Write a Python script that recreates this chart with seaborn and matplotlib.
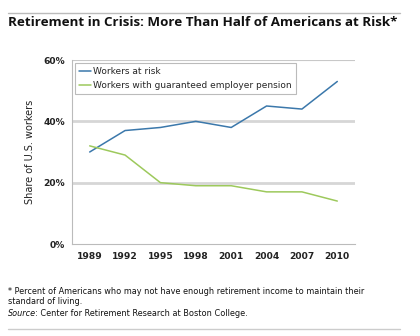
import matplotlib
matplotlib.use("Agg")
import matplotlib.pyplot as plt
import seaborn as sns
import pandas as pd
from matplotlib.lines import Line2D
from matplotlib.ticker import FuncFormatter, FixedLocator

years = ["1989", "1992", "1995", "1998", "2001", "2004", "2007", "2010"]
at_risk = [30, 37, 38, 40, 38, 45, 44, 53]
pension = [32, 29, 20, 19, 19, 17, 17, 14]
series_names = ["Workers at risk", "Workers with guaranteed employer pension"]
yticks = [0, 20, 40, 60]

sns.set_theme(style="white")
plt.rcParams["font.family"] = ["DejaVu Sans"]

df = pd.DataFrame({
    "pos": list(range(len(years))) * 2,
    "value": at_risk + pension,
    "series": [series_names[0]] * len(years) + [series_names[1]] * len(years),
})

fig = plt.figure(figsize=(4.2, 3.36), dpi=100)
ax = fig.add_axes([72/420, 1-244/336, (355-72)/420, (244-60)/336])
palette = {series_names[0]: "#3b78ab", series_names[1]: "#9dc95c"}
sns.lineplot(data=df, x="pos", y="value", hue="series", palette=palette, ax=ax,
             linewidth=1.1, legend=False)

ax.set_xlim(-0.5, len(years) - 0.5)
ax.set_ylim(0, 60)
ax.set_xticks(range(len(years)))
ax.set_xticklabels(years, fontsize=6.6, fontweight="bold", color="#222222")
ax.xaxis.set_minor_locator(FixedLocator([i - 0.5 for i in range(len(years) + 1)]))
ax.tick_params(axis="x", which="major", length=0, pad=6)
ax.tick_params(axis="x", which="minor", length=4, width=0.8, color="#bbbbbb", direction="out")
ax.set_yticks(yticks)
ax.yaxis.set_major_formatter(FuncFormatter(lambda v, p: f"{int(v)}%"))
ax.tick_params(axis="y", length=3, width=0.8, color="#bbbbbb", direction="out",
               labelsize=6.6, labelcolor="#222222", pad=2)
for lab in ax.get_yticklabels():
    lab.set_fontweight("bold")
ax.set_xlabel("")
ax.set_ylabel("Share of U.S. workers", fontsize=7, color="#222222", labelpad=6)

for y in [20, 40]:
    ax.axhline(y, color="#d6d6d6", linewidth=2.0, zorder=0)
ax.axhline(60, color="#c8c8c8", linewidth=0.8, zorder=0)
for s in ["top", "right"]:
    ax.spines[s].set_visible(False)
for s in ["left", "bottom"]:
    ax.spines[s].set_color("#bbbbbb")
    ax.spines[s].set_linewidth(0.8)

handles = [Line2D([0], [0], color=palette[n], linewidth=1.1) for n in series_names]
leg = ax.legend(handles, series_names, loc="upper left", bbox_to_anchor=(0.012, 0.985),
                fontsize=6.5, frameon=True, fancybox=False, handlelength=1.3,
                handletextpad=0.2, borderpad=0.45, labelspacing=0.55, borderaxespad=0)
leg.get_frame().set_edgecolor("#aaaaaa")
leg.get_frame().set_linewidth(0.8)

# title and rules
fig.add_artist(Line2D([8/420, 400/420], [1-13/336, 1-13/336], color="#bbbbbb", linewidth=1.0))
fig.text(8/420, 1-22/336, "Retirement in Crisis: More Than Half of Americans at Risk*",
         fontsize=9.6, fontweight="bold", family="Open Sans", va="center", ha="left", color="#111111")
fs = 5.85
fig.text(8/420, 1-291/336, "* Percent of Americans who may not have enough retirement income to maintain their",
         fontsize=fs, va="center", ha="left", color="#111111")
fig.text(8/420, 1-302/336, "standard of living.", fontsize=fs, va="center", ha="left", color="#111111")
src = fig.text(8/420, 1-313/336, "Source", fontsize=fs, style="italic", va="center", ha="left",
               color="#111111")
fig.canvas.draw()
bb = src.get_window_extent(renderer=fig.canvas.get_renderer())
fig.text((bb.x1 - 1) / fig.bbox.width, 1-313/336, ": Center for Retirement Research at Boston College.",
         fontsize=fs, va="center", ha="left", color="#111111")
fig.add_artist(Line2D([8/420, 400/420], [1-329/336, 1-329/336], color="#cccccc", linewidth=1.0))

fig.savefig("out.png", dpi=100)
